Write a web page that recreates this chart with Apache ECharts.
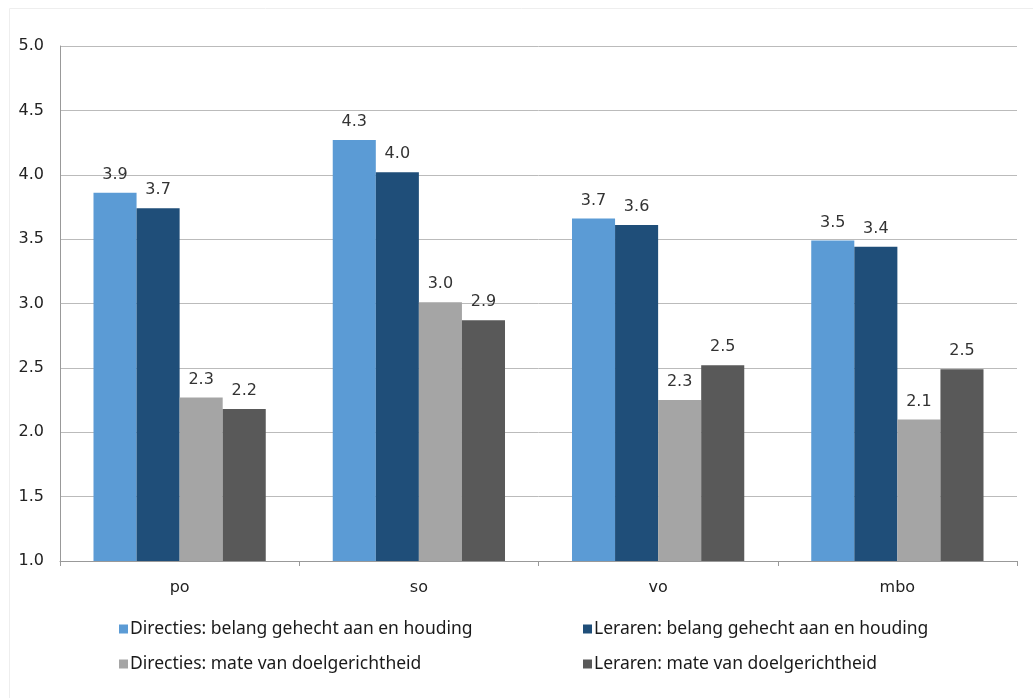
<!DOCTYPE html>
<html>
<head>
<meta charset="utf-8">
<script src="https://cdn.jsdelivr.net/npm/echarts@6/dist/echarts.min.js"></script>
<style>
html,body{margin:0;padding:0;background:#fff;}
#chart{width:1033px;height:698px;}
</style>
</head>
<body>
<div id="chart"></div>
<script>
const categories = ['po', 'so', 'vo', 'mbo'];
const seriesNames = [
  'Directies: belang gehecht aan en houding',
  'Leraren: belang gehecht aan en houding',
  'Directies: mate van doelgerichtheid',
  'Leraren: mate van doelgerichtheid'
];
const directiesHouding = [3.86, 4.27, 3.66, 3.49];
const lerarenHouding = [3.74, 4.02, 3.61, 3.44];
const directiesDoel = [2.27, 3.01, 2.25, 2.10];
const lerarenDoel = [2.18, 2.87, 2.52, 2.49];
const yTicks = [1.0, 1.5, 2.0, 2.5, 3.0, 3.5, 4.0, 4.5, 5.0];

const colors = ['#5B9BD5', '#1F4E79', '#A5A5A5', '#595959'];
const valueSets = [directiesHouding, lerarenHouding, directiesDoel, lerarenDoel];
const axisFont = 'DejaVu Sans, Verdana, sans-serif';
const legendFont = '"Noto Sans", sans-serif';

const chart = echarts.init(document.getElementById('chart'));

const legendPos = [
  {left: 114, top: 615},
  {left: 578, top: 615},
  {left: 114, top: 650},
  {left: 578, top: 650}
];

chart.setOption({
  animation: false,
  color: colors,
  graphic: [{
    type: 'rect',
    shape: {x: 9.5, y: 8.5, width: 1030, height: 700},
    style: {fill: 'none', stroke: '#eeeeee', lineWidth: 1},
    silent: true
  }],
  legend: seriesNames.map((n, i) => ({
    data: [n],
    left: legendPos[i].left,
    top: legendPos[i].top,
    icon: 'rect',
    itemWidth: 9,
    itemHeight: 9,
    itemGap: 4,
    textStyle: {fontFamily: legendFont, fontSize: 17.5, color: '#1a1a1a', padding: [0, 0, 0, -3]}
  })),
  grid: {left: 60, right: 16, top: 46, bottom: 137, containLabel: false},
  xAxis: {
    type: 'category',
    data: categories,
    axisLine: {lineStyle: {color: '#999999', width: 1}},
    axisTick: {show: true, length: 5, lineStyle: {color: '#999999'}},
    axisLabel: {fontFamily: axisFont, fontSize: 16, color: '#222', margin: 19}
  },
  yAxis: {
    type: 'value',
    min: 1,
    max: 5,
    interval: 0.5,
    axisLine: {show: true, lineStyle: {color: '#999999'}},
    axisTick: {show: false},
    splitLine: {lineStyle: {color: '#bbbbbb', width: 1}},
    axisLabel: {
      fontFamily: axisFont, fontSize: 16, color: '#222', margin: 16,
      formatter: v => (yTicks.includes(v) ? v.toFixed(1) : '')
    }
  },
  series: seriesNames.map((n, i) => ({
    name: n,
    type: 'bar',
    data: valueSets[i],
    barGap: '0%',
    barCategoryGap: '28%',
    itemStyle: {color: colors[i]},
    label: {
      show: true,
      position: 'top',
      distance: 10,
      fontFamily: axisFont,
      fontSize: 16,
      color: '#333',
      formatter: p => p.value.toFixed(1)
    }
  }))
});
</script>
</body>
</html>
